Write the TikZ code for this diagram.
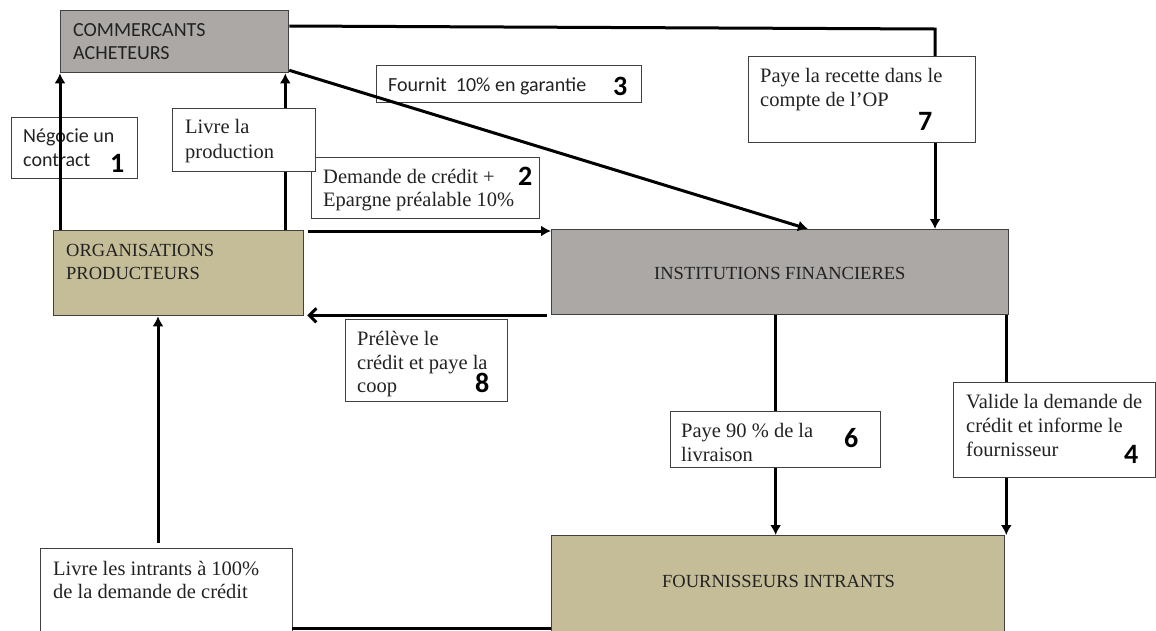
\documentclass[tikz,border=0pt]{standalone}
\usepackage{fontspec}
\setmainfont{Liberation Serif}
\newfontfamily\calib{Carlito}
\usetikzlibrary{arrows.meta,calc}
\definecolor{grayfill}{HTML}{ABA8A6}
\definecolor{khaki}{HTML}{C4BD97}
\definecolor{bord}{HTML}{404040}
\definecolor{ink}{HTML}{222222}
\begin{document}
\begin{tikzpicture}[x=1pt,y=-1pt,
  box/.style={draw=bord,line width=1.3pt,inner sep=0pt,anchor=north west},
  ser/.style={anchor=base west,inner sep=0pt,text=ink,font=\fontsize{20.5}{24}\selectfont},
  caps/.style={anchor=base west,inner sep=0pt,text=ink,font=\fontsize{18.5}{24}\selectfont},
  cal/.style={anchor=base west,inner sep=0pt,text=ink,font=\calib\fontsize{20}{24}\selectfont},
  num/.style={anchor=base west,inner sep=0pt,text=black,font=\calib\bfseries\fontsize{28}{30}\selectfont},
  conn/.style={line width=3pt,draw=black},
  arr/.style={conn,-{Latex[length=10pt,width=11pt]}},
  barb/.style={conn,-{Straight Barb[length=7pt,width=14pt]}}]
\useasboundingbox (0,0) rectangle (1156,630);
\begin{scope}
\clip (0,0) rectangle (1156,630);
% main boxes
\node[box,fill=grayfill,minimum width=228pt,minimum height=62pt] (com) at (60,10) {};
\node[box,fill=khaki,minimum width=250pt,minimum height=85pt] (op) at (53,230) {};
\node[box,fill=grayfill,minimum width=457pt,minimum height=85pt] (inst) at (551,229) {};
\node[box,fill=khaki,minimum width=453pt,minimum height=110pt] (four) at (551,535) {};
% label boxes
\node[box,minimum width=126pt,minimum height=61pt] (b1) at (11,117) {};
\node[box,minimum width=228pt,minimum height=61pt] (b2) at (311,157) {};
\node[box,fill=white,minimum width=143pt,minimum height=63pt] (bL) at (172,108) {};
\node[box,minimum width=265pt,minimum height=37pt] (b3) at (376,65) {};
\node[box,minimum width=227pt,minimum height=86pt] (b7) at (748,56) {};
\node[box,minimum width=162pt,minimum height=82pt] (b8) at (345,319) {};
\node[box,minimum width=210pt,minimum height=56pt] (b6) at (670,411) {};
\node[box,minimum width=202pt,minimum height=95pt] (b4) at (953,382) {};
\node[box,minimum width=252pt,minimum height=100pt] (bI) at (40,548) {};
% texts
\node[cal] (tcom1) at (73,36) {COMMERCANTS};
\node[cal] (tcom2) at (73,59) {ACHETEURS};
\node[caps] (top1) at (66,256) {ORGANISATIONS};
\node[caps] (top2) at (66,279) {PRODUCTEURS};
\node[caps] (tinst) at (654,279) {INSTITUTIONS FINANCIERES};
\node[caps] (tfour) at (662,587) {FOURNISSEURS INTRANTS};
\node[cal] (t1a) at (23,142) {Négocie un};
\node[cal] (t1b) at (23,166) {contract};
\node[num] (n1) at (110,172) {1};
\node[ser] (tLa) at (185,133) {Livre la};
\node[ser] (tLb) at (185,158) {production};
\node[ser] (t2a) at (323,183) {Demande de crédit +};
\node[ser] (t2b) at (323,206) {Epargne préalable 10\%};
\node[num] (n2) at (518,185) {2};
\node[cal] (t3) at (388,91) {Fournit\ \ 10\% en garantie};
\node[num] (n3) at (613,95) {3};
\node[ser] (t7a) at (760,82) {Paye la recette dans le};
\node[ser] (t7b) at (760,106) {compte de l’OP};
\node[num] (n7) at (918,130) {7};
\node[ser] (t8a) at (357,345) {Prélève le};
\node[ser] (t8b) at (357,369) {crédit et paye la};
\node[ser] (t8c) at (357,392) {coop};
\node[num] (n8) at (475,392) {8};
\node[ser] (t6a) at (681,437) {Paye 90 \% de la};
\node[ser] (t6b) at (681,461) {livraison};
\node[num] (n6) at (844,447) {6};
\node[ser] (t4a) at (966,408) {Valide la demande de};
\node[ser] (t4b) at (966,432) {crédit et informe le};
\node[ser] (t4c) at (966,456) {fournisseur};
\node[num] (n4) at (1124,463) {4};
\node[ser] (tIa) at (53,575) {Livre les intrants à 100\%};
\node[ser] (tIb) at (53,598) {de la demande de crédit};
% connectors
\coordinate (x1) at ([xshift=7pt]op.north west);
\draw[arr] (x1) -- (x1 |- com.south);
\coordinate (x2) at ([xshift=-19pt]op.north east);
\draw[conn] (x2) -- (x2 |- bL.south);
\draw[arr] (x2 |- bL.north) -- (x2 |- com.south);
\coordinate (c7) at (935,29);
\draw[conn] ([yshift=-16pt]com.north east) -- (c7) -- (c7 |- b7.north);
\draw[arr] (c7 |- b7.south) -- (c7 |- inst.north);
\coordinate (d3) at (808,229);
\draw[arr] ([yshift=3pt]com.south east) -- (d3);
\coordinate (o1) at ([xshift=4pt,yshift=-1pt]op.north east);
\draw[arr] (o1) -- (o1 -| inst.west);
\coordinate (i1) at ([xshift=-4pt]inst.south west);
\coordinate (o2) at ([xshift=3pt]op.south east);
\draw[barb] (i1) -- (i1 -| o2);
\draw[conn] (b6.north |- inst.south) -- (b6.north);
\draw[arr] (b6.south) -- (b6.south |- four.north);
\coordinate (c4) at ([xshift=-3pt]inst.south east);
\draw[conn] (c4) -- (c4 |- b4.north);
\draw[arr] (c4 |- b4.south) -- (c4 |- four.north);
\coordinate (c9) at (158,543);
\draw[arr] (c9) -- (c9 |- op.south);
\coordinate (c10) at (292,628);
\draw[conn] (c10) -- (c10 -| four.west);
\end{scope}
\end{tikzpicture}
\end{document}
